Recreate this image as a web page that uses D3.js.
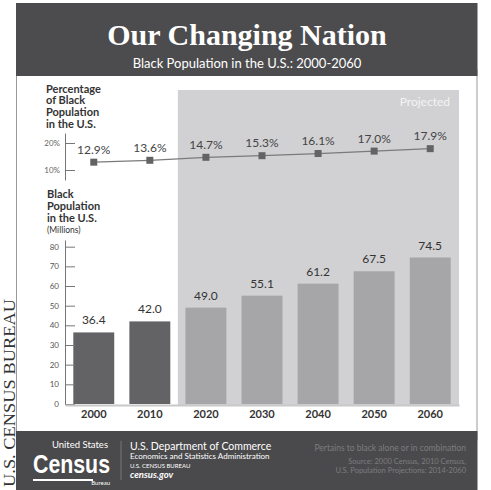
<!DOCTYPE html>
<html>
<head>
<meta charset="utf-8">
<script src="https://cdn.jsdelivr.net/npm/d3@7"></script>
<style>
    body { margin: 0; background: #fff; }
    svg text { font-family: Lato, "Open Sans", sans-serif; }
</style>
</head>
<body>
<svg id="drawing_region"></svg>
<script>
const years = ["2000", "2010", "2020", "2030", "2040", "2050", "2060"];
const popMillions = [36.4, 42.0, 49.0, 55.1, 61.2, 67.5, 74.5];
const pctBlack = [12.9, 13.6, 14.7, 15.3, 16.1, 17.0, 17.9];
const projectedFrom = "2020";
const popTicks = [0, 10, 20, 30, 40, 50, 60, 70, 80];
const pctTicks = [10, 20];

const data = years.map((y, i) => ({ year: y, pop: popMillions[i], pct: pctBlack[i] }));

const svg = d3.select("#drawing_region")
    .attr("width", 491)
    .attr("height", 490);

// frame pieces
svg.append("rect")
    .attr("x", 16.5).attr("y", 70).attr("width", 460.5).attr("height", 370)
    .attr("fill", "#fff").attr("stroke", "#9a9a9a").attr("stroke-width", 1);

svg.append("rect")
    .attr("x", 16).attr("y", 3).attr("width", 461.5).attr("height", 73)
    .attr("fill", "#4c4c4e");

svg.append("rect")
    .attr("x", 16).attr("y", 431).attr("width", 461.5).attr("height", 59)
    .attr("fill", "#4a4a4c");

svg.append("text")
    .attr("x", 247).attr("y", 45)
    .attr("text-anchor", "middle")
    .attr("fill", "#fff")
    .style("font-family", "'Liberation Serif', serif")
    .attr("font-weight", "bold")
    .attr("font-size", "30px")
    .text("Our Changing Nation");

svg.append("text")
    .attr("x", 247).attr("y", 68)
    .attr("text-anchor", "middle")
    .attr("fill", "#fff")
    .attr("font-size", "13px")
    .text("Black Population in the U.S.: 2000-2060");

// side credit
svg.append("text")
    .attr("transform", "translate(15, 487) rotate(-90)")
    .attr("fill", "#333")
    .style("font-family", "'Liberation Serif', serif")
    .attr("font-size", "16.5px")
    .attr("textLength", 188).attr("lengthAdjust", "spacingAndGlyphs")
    .text("U.S. CENSUS BUREAU");

// scales
const xscale = d3.scaleBand()
    .domain(years)
    .range([65, 459])
    .paddingInner(0.27)
    .paddingOuter(0.148);
const bw = xscale.bandwidth();
const cx = d => xscale(d) + bw / 2;

const ypct = d3.scaleLinear().domain([6.3, 23.7]).range([180, 133]);
const ypop = d3.scaleLinear().domain([0, 83.4]).range([404, 240]);

// projected band
const gap = xscale.step() - bw;
svg.append("rect")
    .attr("x", xscale(projectedFrom) - gap / 2)
    .attr("y", 90)
    .attr("width", xscale.range()[1] - (xscale(projectedFrom) - gap / 2))
    .attr("height", ypop(0) + 1 - 90)
    .attr("fill", "#d1d1d3");

svg.append("text")
    .attr("x", 450).attr("y", 106)
    .attr("text-anchor", "end")
    .attr("fill", "#f4f4f4")
    .attr("font-size", "12px")
    .text("Projected");

// left labels
const label1 = svg.append("text")
    .attr("fill", "#333").attr("font-weight", "bold").attr("font-size", "11px");
["Percentage", "of Black", "Population", "in the U.S."].forEach((t, i) => {
    label1.append("tspan").attr("x", 46).attr("y", 92.5 + i * 11.7).text(t);
});

const label2 = svg.append("text")
    .attr("fill", "#333").attr("font-weight", "bold").attr("font-size", "11px");
["Black", "Population", "in the U.S."].forEach((t, i) => {
    label2.append("tspan").attr("x", 47).attr("y", 198 + i * 11.8).text(t);
});
svg.append("text")
    .attr("x", 47).attr("y", 233)
    .attr("fill", "#333").attr("font-size", "8.5px")
    .text("(Millions)");

// percentage axis + line
const pctAxis = svg.append("g")
    .attr("transform", "translate(65, 0)")
    .call(d3.axisLeft(ypct).tickValues(pctTicks).tickFormat(d => d + "%")
        .tickSizeInner(-10).tickSizeOuter(0).tickPadding(5));
pctAxis.selectAll("text").attr("font-size", "8px").attr("fill", "#666");
pctAxis.selectAll("line, path").attr("stroke", "#777");

svg.append("path")
    .datum(data)
    .attr("fill", "none")
    .attr("stroke", "#7a7a7c")
    .attr("stroke-width", 1.2)
    .attr("d", d3.line().x(d => cx(d.year)).y(d => ypct(d.pct)));

svg.selectAll(".marker")
    .data(data)
    .enter()
    .append("rect")
    .attr("class", "marker")
    .attr("x", d => cx(d.year) - 3.5)
    .attr("y", d => ypct(d.pct) - 3.5)
    .attr("width", 7).attr("height", 7)
    .attr("fill", "#636366");

svg.selectAll(".pctlabel")
    .data(data)
    .enter()
    .append("text")
    .attr("class", "pctlabel")
    .attr("x", d => cx(d.year))
    .attr("y", d => ypct(d.pct) - 8.5)
    .attr("text-anchor", "middle")
    .attr("fill", "#444")
    .attr("font-size", "12px")
    .text(d => d.pct.toFixed(1) + "%");

// population bars
svg.selectAll(".bar")
    .data(data)
    .enter()
    .append("rect")
    .attr("class", "bar")
    .attr("x", d => xscale(d.year))
    .attr("y", d => ypop(d.pop))
    .attr("width", bw)
    .attr("height", d => ypop(0) - ypop(d.pop))
    .attr("fill", d => +d.year < +projectedFrom ? "#636366" : "#a6a6a9");

svg.selectAll(".poplabel")
    .data(data)
    .enter()
    .append("text")
    .attr("class", "poplabel")
    .attr("x", d => cx(d.year))
    .attr("y", d => ypop(d.pop) - 8)
    .attr("text-anchor", "middle")
    .attr("fill", "#333")
    .attr("font-size", "12px")
    .text(d => d.pop.toFixed(1));

const popAxis = svg.append("g")
    .attr("transform", "translate(65, 0)")
    .call(d3.axisLeft(ypop).tickValues(popTicks)
        .tickSizeInner(-10).tickSizeOuter(0).tickPadding(6));
popAxis.selectAll("text").attr("font-size", "8px").attr("fill", "#555");
popAxis.selectAll("line, path").attr("stroke", "#777");

const xaxis = svg.append("g")
    .attr("transform", `translate(0, ${ypop(0) + 1})`)
    .call(d3.axisBottom(xscale).tickSize(0).tickPadding(5));
xaxis.select(".domain").attr("stroke", "#c8c8c8").attr("stroke-width", 2);
xaxis.selectAll("text")
    .attr("font-size", "11px")
    .attr("font-weight", "bold")
    .attr("fill", "#333");

// footer
svg.append("text")
    .attr("x", 108).attr("y", 447.5)
    .attr("text-anchor", "end")
    .attr("fill", "#fff").attr("font-size", "9.5px")
    .text("United States");
svg.append("text")
    .attr("x", 33).attr("y", 473)
    .attr("fill", "#fff").attr("font-weight", "bold").attr("font-size", "26px")
    .style("font-family", "'Liberation Sans', sans-serif")
    .attr("textLength", 77).attr("lengthAdjust", "spacingAndGlyphs")
    .text("Census");
svg.append("rect")
    .attr("x", 33).attr("y", 479).attr("width", 60).attr("height", 2)
    .attr("fill", "#fff");
svg.append("text")
    .attr("x", 110).attr("y", 485)
    .attr("text-anchor", "end")
    .attr("fill", "#fff").attr("font-size", "6px")
    .text("Bureau");
svg.append("line")
    .attr("x1", 121).attr("x2", 121).attr("y1", 441).attr("y2", 480)
    .attr("stroke", "#777");

svg.append("text")
    .attr("x", 130).attr("y", 450)
    .attr("fill", "#fff").attr("font-size", "10.5px")
    .text("U.S. Department of Commerce");
svg.append("text")
    .attr("x", 130).attr("y", 459)
    .attr("fill", "#fff").attr("font-size", "8px")
    .text("Economics and Statistics Administration");
svg.append("text")
    .attr("x", 130).attr("y", 468)
    .attr("fill", "#fff").attr("font-size", "6px")
    .text("U.S. CENSUS BUREAU");
svg.append("text")
    .attr("x", 130).attr("y", 477.5)
    .attr("fill", "#fff").attr("font-size", "9.5px")
    .attr("font-weight", "bold").attr("font-style", "italic")
    .text("census.gov");

svg.append("text")
    .attr("x", 466).attr("y", 450.5)
    .attr("text-anchor", "end")
    .attr("fill", "#7c7c7e").attr("font-size", "8.5px")
    .text("Pertains to black alone or in combination");
svg.append("text")
    .attr("x", 466).attr("y", 463.5)
    .attr("text-anchor", "end")
    .attr("fill", "#7c7c7e").attr("font-size", "7.5px")
    .text("Source: 2000 Census, 2010 Census,");
svg.append("text")
    .attr("x", 466).attr("y", 472.5)
    .attr("text-anchor", "end")
    .attr("fill", "#7c7c7e").attr("font-size", "7.5px")
    .text("U.S. Population Projections: 2014-2060");
</script>
</body>
</html>
